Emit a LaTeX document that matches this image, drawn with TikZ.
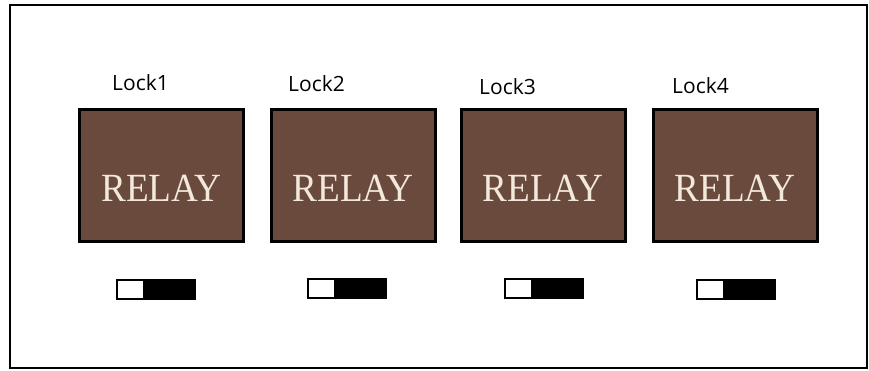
\documentclass[tikz,border=0pt]{standalone}
\usepackage{fontspec}
\setmainfont{Liberation Serif}
\newfontfamily\locksans{Open Sans}
\newfontfamily\relayserif[FakeStretch=0.93]{Liberation Serif}
\definecolor{relaybrown}{HTML}{6A4A3C}
\definecolor{relaycream}{HTML}{F2E8DC}
\tikzset{
  relay/.style={draw=black, line width=3pt, fill=relaybrown, inner sep=0pt,
    minimum width=164pt, minimum height=132pt, text height=52pt,
    text=relaycream, font=\relayserif\fontsize{40}{40}\selectfont},
  locklabel/.style={anchor=base west, inner sep=0pt,
    font=\locksans\fontsize{21}{21}\selectfont},
  toggle/.style={draw=black, line width=2pt, fill=white, inner sep=0pt,
    minimum width=78pt, minimum height=19pt,
    path picture={\fill[black] ([xshift=26pt]path picture bounding box.south west)
      rectangle (path picture bounding box.north east);}}
}
\begin{document}
\begin{tikzpicture}[x=1pt, y=-1pt]
        \useasboundingbox (0,0) rectangle (869,371);
        % Внешняя рамка
        \draw[line width=2.2pt] (10,5) rectangle (867,368);

        % Реле
        \node[relay] (relay1) at (161.5,175.5) {RELAY};
        \node[relay] (relay2) at (353,175.5) {RELAY};
        \node[relay] (relay3) at (543,175.5) {RELAY};
        \node[relay] (relay4) at (735,175.5) {RELAY};

        % Подписи замков
        \node[locklabel] (lock1) at (112,91) {Lock1};
        \node[locklabel] (lock2) at (288,92) {Lock2};
        \node[locklabel] (lock3) at (479,94.5) {Lock3};
        \node[locklabel] (lock4) at (672,94) {Lock4};

        % Переключатели
        \node[toggle] (switch1) at (156,289) {};
        \node[toggle] (switch2) at (347,288.5) {};
        \node[toggle] (switch3) at (543.5,288.5) {};
        \node[toggle] (switch4) at (735.5,289) {};
    \end{tikzpicture}
\end{document}
